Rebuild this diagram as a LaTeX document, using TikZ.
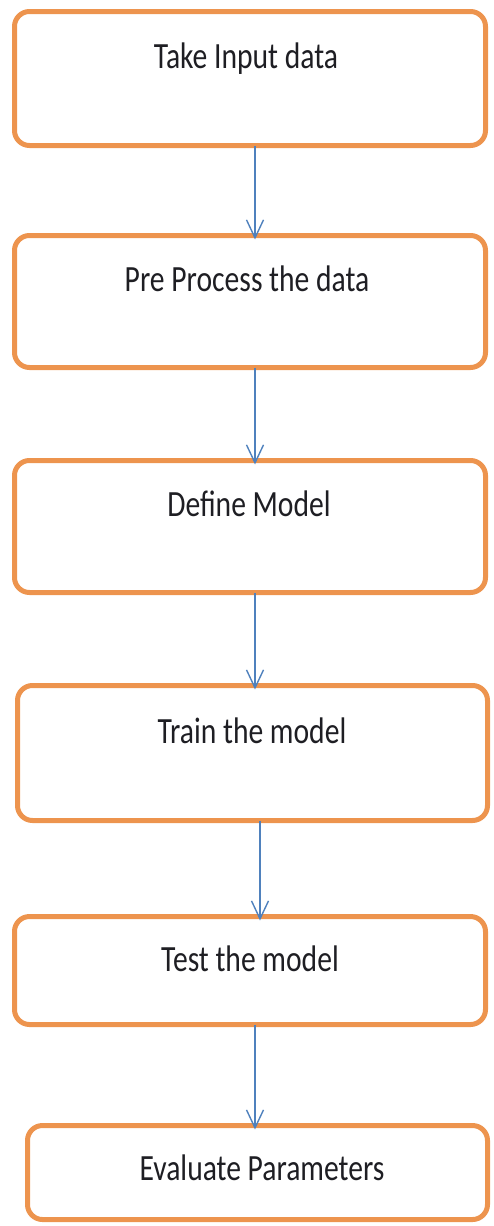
\documentclass[tikz,border=0pt]{standalone}
\usepackage{fontspec}
\setmainfont{Carlito}[FakeStretch=0.8]
\usetikzlibrary{arrows.meta}
\definecolor{boxorange}{RGB}{237,148,78}
\definecolor{arrowblue}{RGB}{79,129,189}
\definecolor{txt}{RGB}{30,30,35}
\begin{document}
\begin{tikzpicture}[x=1pt,y=-1pt,
  stepbox/.style={draw=boxorange, line width=5pt, rounded corners=15pt, rectangle, inner sep=0pt, outer sep=0pt},
  steptext/.style={font=\fontsize{37}{40}\selectfont, text=txt, inner sep=0pt, anchor=base},
  flow/.style={draw=arrowblue, line width=1.4pt, -{Straight Barb[length=18pt,width=17pt,line width=1.4pt]}}]
\useasboundingbox (0,0) rectangle (494,1226);
% boxes
\node[stepbox, minimum width=471pt, minimum height=134pt] (b1) at (250,78.5) {};
\node[stepbox, minimum width=471pt, minimum height=132pt] (b2) at (250,301.5) {};
\node[stepbox, minimum width=471pt, minimum height=132pt] (b3) at (250,526.5) {};
\node[stepbox, minimum width=470pt, minimum height=135pt] (b4) at (252.5,753) {};
\node[stepbox, minimum width=471pt, minimum height=108pt] (b5) at (250,970.5) {};
\node[stepbox, minimum width=460pt, minimum height=94pt] (b6) at (257.5,1172.5) {};
% texts
\node[steptext] (t1) at (246,68) {Take Input data};
\node[steptext] (t2) at (247,291) {Pre Process the data};
\node[steptext] (t3) at (249,516) {Define Model};
\node[steptext] (t4) at (252,743) {Train the model};
\node[steptext] (t5) at (250,971) {Test the model};
\node[steptext] (t6) at (262,1180) {Evaluate Parameters};
% arrows
\draw[flow] ([xshift=5pt]b1.south) -- ([xshift=5pt,yshift=-4pt]b2.north);
\draw[flow] ([xshift=5pt]b2.south) -- ([xshift=5pt,yshift=-4pt]b3.north);
\draw[flow] ([xshift=5pt]b3.south) -- ([xshift=2.5pt,yshift=-4pt]b4.north);
\draw[flow] ([xshift=7.5pt]b4.south) -- ([xshift=10pt,yshift=-4pt]b5.north);
\draw[flow] ([xshift=5pt]b5.south) -- ([xshift=-2.5pt,yshift=-4pt]b6.north);
\end{tikzpicture}
\end{document}
